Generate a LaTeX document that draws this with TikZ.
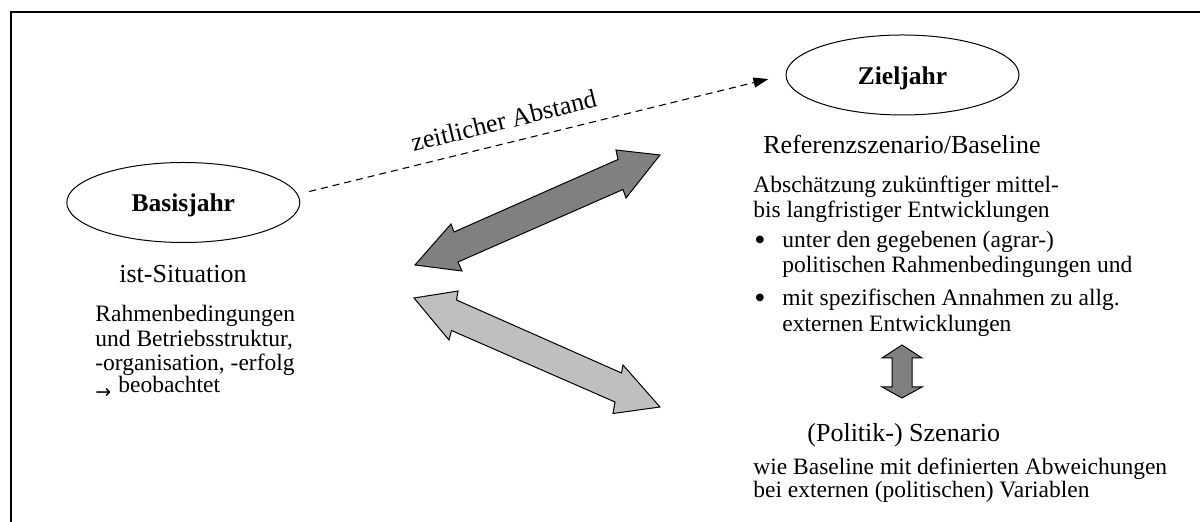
\documentclass[tikz,border=0pt]{standalone}
\usepackage{fontspec}
\setmainfont{Liberation Serif}
\newfontfamily\symfont{DejaVu Sans}
\usetikzlibrary{arrows.meta,shapes.geometric}
\begin{document}
\begin{tikzpicture}[x=0.5pt,y=-0.5pt,
  frame/.style={line width=0.75pt},
  yearnode/.style={ellipse, draw, line width=0.5pt, minimum width=116.5pt, minimum height=40pt, inner sep=0pt,
    font=\fontsize{12.75}{15}\bfseries, text height=12pt, text depth=2.6pt},
  headtext/.style={inner sep=0pt, anchor=base west, font=\fontsize{13}{15}\selectfont},
  bodytext/.style={inner sep=0pt, anchor=base west, font=\fontsize{11.75}{14}\selectfont, text height=8.4pt, text depth=2.4pt},
  bulletmark/.style={inner sep=0pt, anchor=base, font=\fontsize{16}{16}\selectfont, text height=7pt, text depth=0pt},
  darkarrow/.style={draw, line width=0.5pt, line join=miter, fill=black!50},
  lightarrow/.style={draw, line width=0.5pt, line join=miter, fill=black!25},
  dashline/.style={dash pattern=on 3.5pt off 2.5pt, line width=0.55pt, -{Triangle[length=7.5pt,width=5pt]}}
]
\useasboundingbox (0,0) rectangle (1200,522);
\draw[frame] (11,522) -- (11,12) -- (1200,12);

% year ellipses
\node[yearnode] (B) at (183.3,202.5) {Basisjahr};
\node[yearnode] (Z) at (902.5,75) {Zieljahr};

% dashed time connector
\draw[dashline] ([shift={(9,-11)}]B.east) --
  node[sloped, pos=0.435, above=6.5pt, inner sep=0pt, font=\fontsize{13}{15}\selectfont] (za) {zeitlicher Abstand}
  ([shift={(-17,4)}]Z.west);

% left column
\node[headtext] (ist) at (119,283) {ist-Situation};
\node[bodytext] (l1) at (95,322) {Rahmenbedingungen};
\node[bodytext] (l2) at (95,347) {und Betriebsstruktur,};
\node[bodytext] (l3) at (95,370.5) {-organisation, -erfolg};
\node[bodytext] (l4) at (95,393) {\raisebox{-3pt}{\symfont\fontsize{9.5}{9.5}\selectfont →}\hspace{3.5pt}beobachtet};

% right column
\node[headtext] (ref) at (763,154) {Referenzszenario/Baseline};
\node[bodytext] (r1) at (753,193) {Abschätzung zukünftiger mittel-};
\node[bodytext] (r2) at (753,218) {bis langfristiger Entwicklungen};
\node[bulletmark] (bu1) at (760,251) {•};
\node[bodytext] (r3) at (782,248) {unter den gegebenen (agrar-)};
\node[bodytext] (r4) at (782,273) {politischen Rahmenbedingungen und};
\node[bulletmark] (bu2) at (760,309) {•};
\node[bodytext] (r5) at (782,306) {mit spezifischen Annahmen zu allg.};
\node[bodytext] (r6) at (782,332) {externen Entwicklungen};

\node[headtext] (pol) at (807,442) {(Politik-) Szenario};
\node[bodytext] (p1) at (753,475) {wie Baseline mit definierten Abweichungen};
\node[bodytext] (p2) at (753,498) {bei externen (politischen) Variablen};

% big double arrows
\draw[darkarrow] (415,265) -- (451,224) -- (454,232) -- (618,159.5) -- (616,150) -- (660,155)
  -- (626,198) -- (623,189.5) -- (458,262) -- (462,271) -- cycle;
\draw[lightarrow] (414,298) -- (458,291) -- (456.5,300) -- (621.5,373) -- (623,365) -- (660,407)
  -- (613,413.5) -- (615,402) -- (451.5,330.5) -- (449,340) -- cycle;

% small vertical double arrow
\draw[darkarrow] (902,345) -- (922,358) -- (912,358) -- (912,387) -- (922,387) -- (902,398)
  -- (882,387) -- (892,387) -- (892,358) -- (882,358) -- cycle;
\end{tikzpicture}
\end{document}
